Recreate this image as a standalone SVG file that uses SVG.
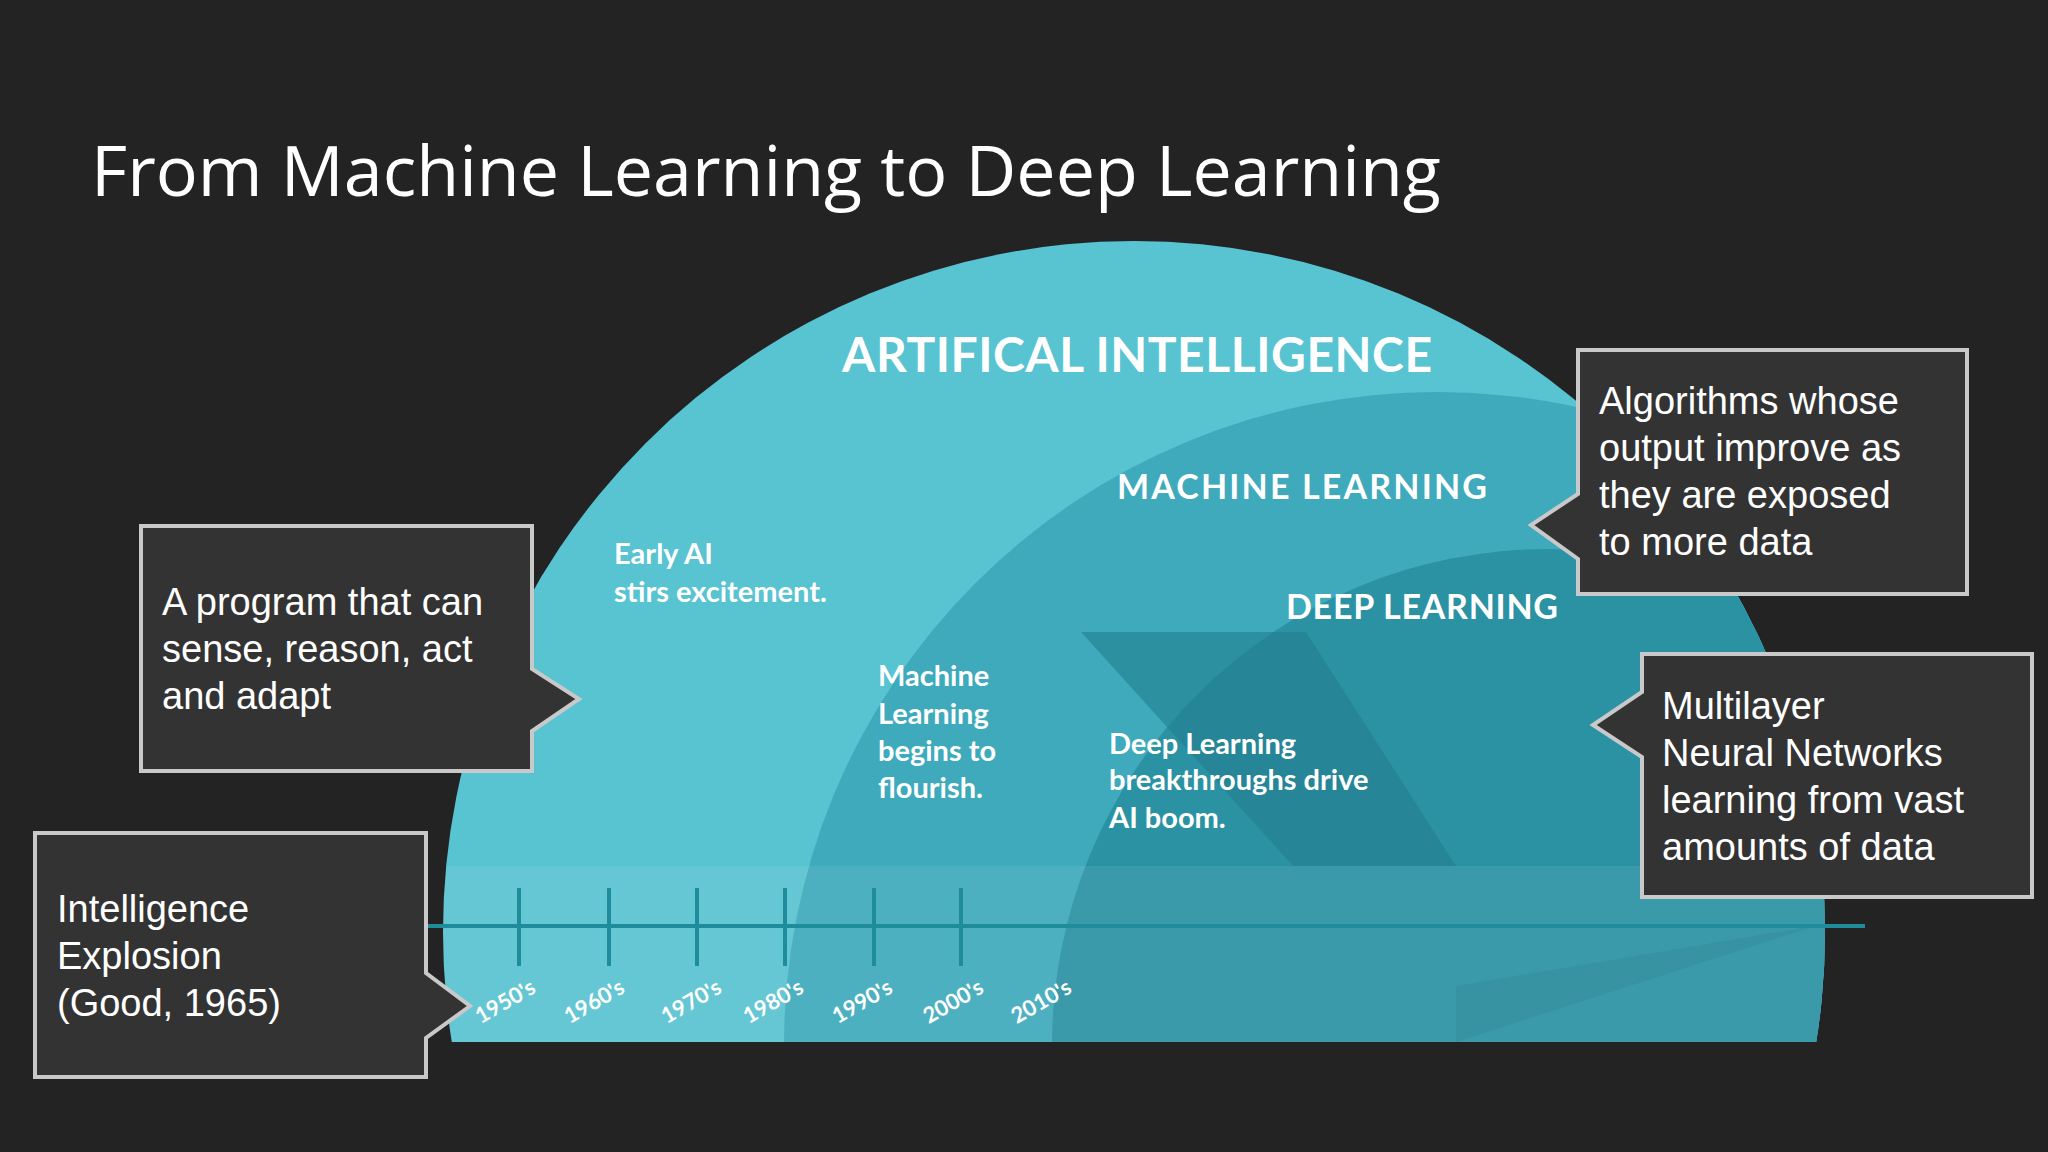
<svg xmlns="http://www.w3.org/2000/svg" width="2048" height="1152" viewBox="0 0 2048 1152">
<style>
.box{fill:#333333;stroke:#c9c9c9;stroke-width:4}
.bt{font-family:"Liberation Sans",Arial,sans-serif;font-size:38px;fill:#ffffff}
.hd{font-family:Lato,"Open Sans",sans-serif;font-weight:bold;fill:#ffffff}
.lb{font-family:Lato,"Open Sans",sans-serif;font-weight:bold;font-size:29px;fill:#ffffff}
.dc{font-family:Lato,"Open Sans",sans-serif;font-weight:bold;font-size:22px;fill:#ffffff}
.tk{stroke:#1f8c9c;stroke-width:4}
</style>
<defs>
<clipPath id="c"><rect x="0" y="0" width="2048" height="1042"/></clipPath>
<clipPath id="c2"><circle cx="1134" cy="932" r="691"/></clipPath>
</defs>
<rect width="2048" height="1152" fill="#232323"/>
<text x="91" y="196" font-family="'Open Sans',sans-serif" font-size="70" fill="#ffffff">From Machine Learning to Deep Learning</text>
<g id="diagram" clip-path="url(#c)">
<circle cx="1134" cy="932" r="691" fill="#58c3d1"/>
<g clip-path="url(#c2)">
<circle cx="1437" cy="1045" r="653" fill="#3eaabb"/>
<circle cx="1548" cy="1045" r="496" fill="#2b92a3"/>
<polygon points="1081,632 1306,632 1456,866 1293,866" fill="#237f8f" opacity="0.6"/>
<polygon points="1456,986 1815,926 1456,1042" fill="#237f8f" opacity="0.5"/>
<rect x="440" y="866" width="1400" height="176" fill="#ffffff" opacity="0.08"/>
</g>
</g>
<g id="labels">
<text class="hd" x="842" y="372" font-size="48" textLength="590">ARTIFICAL INTELLIGENCE</text>
<text class="hd" x="1117" y="499" font-size="34" textLength="370">MACHINE LEARNING</text>
<text class="hd" x="1286" y="619" font-size="34" textLength="272">DEEP LEARNING</text>
<text class="lb" x="614" y="564">Early AI</text>
<text class="lb" x="614" y="602">stirs excitement.</text>
<text class="lb" x="878" y="686">Machine</text>
<text class="lb" x="878" y="724">Learning</text>
<text class="lb" x="878" y="761">begins to</text>
<text class="lb" x="878" y="798">flourish.</text>
<text class="lb" x="1109" y="754">Deep Learning</text>
<text class="lb" x="1109" y="790">breakthroughs drive</text>
<text class="lb" x="1109" y="828">AI boom.</text>
</g>
<g id="timeline">
<line class="tk" x1="428" y1="926" x2="1865" y2="926" stroke-width="7"/>
<line class="tk" x1="519" y1="888" x2="519" y2="966"/>
<line class="tk" x1="609" y1="888" x2="609" y2="966"/>
<line class="tk" x1="697" y1="888" x2="697" y2="966"/>
<line class="tk" x1="785" y1="888" x2="785" y2="966"/>
<line class="tk" x1="874" y1="888" x2="874" y2="966"/>
<line class="tk" x1="961" y1="888" x2="961" y2="966"/>
<g class="dc" text-anchor="middle">
<text transform="translate(509,1008) rotate(-30)">1950's</text>
<text transform="translate(598,1008) rotate(-30)">1960's</text>
<text transform="translate(695,1008) rotate(-30)">1970's</text>
<text transform="translate(777,1008) rotate(-30)">1980's</text>
<text transform="translate(866,1008) rotate(-30)">1990's</text>
<text transform="translate(957,1008) rotate(-30)">2000's</text>
<text transform="translate(1045,1008) rotate(-30)">2010's</text>
</g>
</g>
<g id="callout1">
<path class="box" d="M141,526 H532 V669 L579,699 L532,731 V771 H141 Z"/>
<text class="bt" x="162" y="615">A program that can</text>
<text class="bt" x="162" y="662">sense, reason, act</text>
<text class="bt" x="162" y="709">and adapt</text>
</g>
<g id="callout2">
<path class="box" d="M35,833 H426 V973 L470,1006 L426,1038 V1077 H35 Z"/>
<text class="bt" x="57" y="922">Intelligence</text>
<text class="bt" x="57" y="969">Explosion</text>
<text class="bt" x="57" y="1016">(Good, 1965)</text>
</g>
<g id="callout3">
<path class="box" d="M1578,350 H1967 V594 H1578 V559 L1531,525 L1578,494 Z"/>
<text class="bt" x="1599" y="414">Algorithms whose</text>
<text class="bt" x="1599" y="461">output improve as</text>
<text class="bt" x="1599" y="508">they are exposed</text>
<text class="bt" x="1599" y="555">to more data</text>
</g>
<g id="callout4">
<path class="box" d="M1642,654 H2032 V897 H1642 V757 L1593,725 L1642,692 Z"/>
<text class="bt" x="1662" y="719">Multilayer</text>
<text class="bt" x="1662" y="766">Neural Networks</text>
<text class="bt" x="1662" y="813">learning from vast</text>
<text class="bt" x="1662" y="860">amounts of data</text>
</g>
</svg>
